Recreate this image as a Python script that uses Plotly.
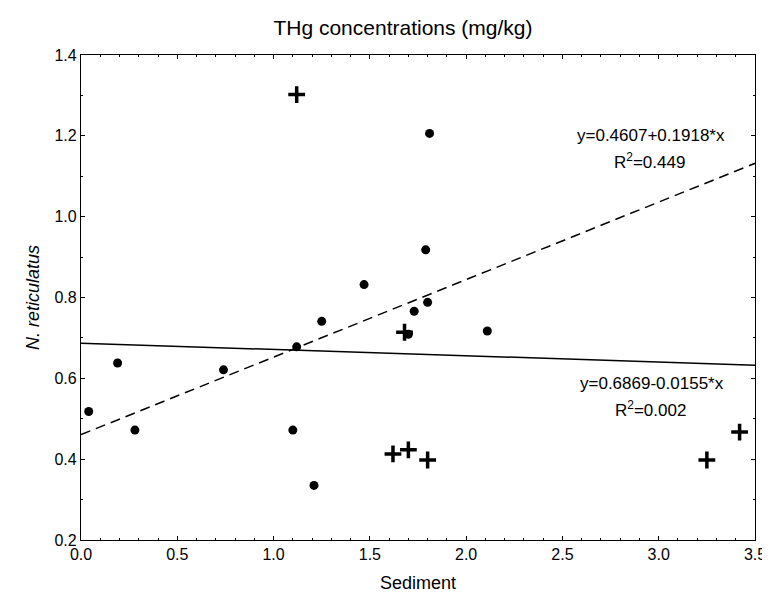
import plotly.graph_objects as go

# Circles (sediment vs N. reticulatus)
circle_x = [0.04, 0.19, 0.28, 0.74, 1.12, 1.10, 1.25, 1.21, 1.81, 1.79, 1.47, 1.80, 1.73, 1.70, 2.11]
circle_y = [0.518, 0.638, 0.472, 0.621, 0.678, 0.472, 0.741, 0.335, 1.206, 0.918, 0.832, 0.788, 0.766, 0.709, 0.717]

# Crosses
cross_x = [1.12, 1.68, 1.62, 1.70, 1.80, 3.25, 3.42]
cross_y = [1.302, 0.714, 0.413, 0.423, 0.398, 0.398, 0.467]

# Regression lines (intercept, slope)
fit1 = (0.4607, 0.1918)
fit2 = (0.6869, -0.0155)
line_x = [0.0, 3.5]

FONT = "Liberation Sans, Arial, sans-serif"

L, R, T, B = 73, 757, 47, 534  # plot area in pixels

fig = go.Figure()
fig.add_trace(go.Scatter(x=line_x, y=[fit1[0] + fit1[1] * v for v in line_x], mode="lines",
                         line=dict(color="black", width=1.5, dash="10px,6px"), showlegend=False))
fig.add_trace(go.Scatter(x=line_x, y=[fit2[0] + fit2[1] * v for v in line_x], mode="lines",
                         line=dict(color="black", width=1.5), showlegend=False))
fig.add_trace(go.Scatter(x=circle_x, y=circle_y, mode="markers",
                         marker=dict(symbol="circle", size=9, color="black"), showlegend=False))
fig.add_trace(go.Scatter(x=cross_x, y=cross_y, mode="markers",
                         marker=dict(symbol="cross-thin", size=12, color="black",
                                     line=dict(color="black", width=3.5)), showlegend=False))


def ann(px, py, text, size=17):
    fig.add_annotation(x=(px - L) / (R - L), y=(B - py) / (B - T), xref="paper", yref="paper",
                       xanchor="center", yanchor="middle",
                       text=text, showarrow=False,
                       font=dict(family=FONT, size=size, color="black"))


ann(651, 128, "y=0.4607+0.1918*x")
ann(650, 153, "R<sup>2</sup>=0.449")
ann(652, 377, "y=0.6869-0.0155*x")
ann(651, 402, "R<sup>2</sup>=0.002")

axis_common = dict(showgrid=False, zeroline=False, showline=True, linecolor="black", linewidth=1.3,
                   mirror="ticks", ticks="inside", ticklen=4, tickcolor="black", tickwidth=1,
                   tickfont=dict(family=FONT, size=16, color="black"))

fig.update_xaxes(range=[0, 3.5], dtick=0.5, tickformat=".1f",
                 minor=dict(dtick=0.1, ticks="inside", ticklen=2, tickcolor="black"),
                 title=dict(text="Sediment", font=dict(family=FONT, size=18, color="black"), standoff=14),
                 **axis_common)
fig.update_yaxes(range=[0.2, 1.4], dtick=0.2, tickformat=".1f",
                 minor=dict(dtick=0.1, ticks="inside", ticklen=2, tickcolor="black"),
                 title=dict(text="<i>N. reticulatus</i>", font=dict(family=FONT, size=18, color="black"), standoff=10),
                 **axis_common)

fig.update_layout(
    width=770, height=594,
    margin=dict(l=L, r=770 - R, t=T, b=594 - B),
    paper_bgcolor="white", plot_bgcolor="white",
    title=dict(text="THg concentrations (mg/kg)", x=395 / 770, xanchor="center", xref="container",
               y=1 - 20 / 594, yanchor="middle",
               font=dict(family=FONT, size=21, color="black")),
)

fig.write_html("out.html")
